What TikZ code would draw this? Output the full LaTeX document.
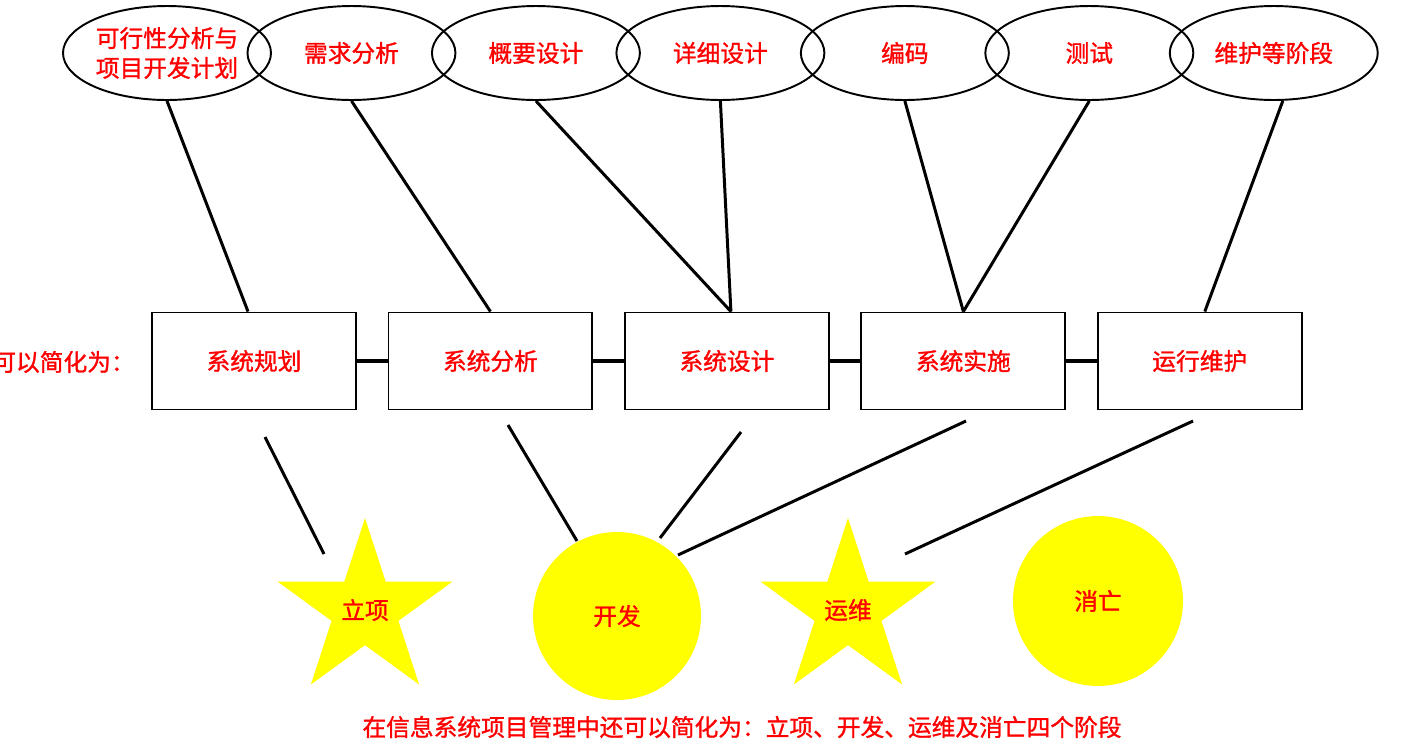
\documentclass[tikz,border=0pt]{standalone}
\usepackage{fontspec}
\newfontfamily\cjk[FakeBold=1.2]{Noto Sans CJK SC}
\usetikzlibrary{shapes.geometric,positioning}
\definecolor{sunyellow}{RGB}{255,255,0}
\definecolor{textred}{RGB}{255,0,0}

\begin{document}
\begin{tikzpicture}[x=0.02cm, y=-0.02cm, node distance=3.69cm]
\tikzstyle{every node}=[text=textred, font=\cjk\fontsize{13.5}{17}\selectfont]
\tikzstyle{stage}=[ellipse, draw=black, line width=1.1pt, minimum width=4.16cm, minimum height=1.88cm, inner sep=0pt, align=center]
\tikzstyle{phase}=[rectangle, draw=black, line width=1.1pt, minimum width=4.08cm, minimum height=1.94cm, node distance=4.73cm]
\tikzstyle{life}=[fill=sunyellow, inner sep=0pt]
\tikzstyle{link}=[draw=black, line width=1.7pt]
\useasboundingbox (0,0) rectangle (1407,755);
% detailed stages
\node[stage] (E1) at (167,53) {可行性分析与\\项目开发计划};
\node[stage] (E2)[right of=E1] {需求分析};
\node[stage] (E3)[right of=E2] {概要设计};
\node[stage] (E4)[right of=E3] {详细设计};
\node[stage] (E5)[right of=E4] {编码};
\node[stage] (E6)[right of=E5] {测试};
\node[stage] (E7)[right of=E6] {维护等阶段};
% simplified phases
\node[phase] (B1) at (254,361) {系统规划};
\node[phase] (B2)[right of=B1] {系统分析};
\node[phase] (B3)[right of=B2] {系统设计};
\node[phase] (B4)[right of=B3] {系统实施};
\node[phase] (B5)[right of=B4] {运行维护};
\node[anchor=west, inner sep=0pt] (N1) at (-8,362) {可以简化为：};
% life cycle
\node[life, star, star points=5, star point ratio=2.618, minimum size=3.68cm] (S1) at (365,610) {立项};
\node[life, circle, minimum size=3.36cm] (C1) at (617,616) {开发};
\node[life, star, star points=5, star point ratio=2.618, minimum size=3.68cm] (S2) at (848,610) {运维};
\node[life, circle, minimum size=3.40cm] (C2) at (1098,601) {消亡};
\node (N2) at (742,727) {在信息系统项目管理中还可以简化为：立项、开发、运维及消亡四个阶段};
% free ends of the lower lines
\coordinate (L1a) at (265,437); \coordinate (L1b) at (324,554);
\coordinate (L2a) at (508,425); \coordinate (L2b) at (577,541);
\coordinate (L3a) at (741,432); \coordinate (L3b) at (660,538);
\coordinate (L4a) at (966,421); \coordinate (L4b) at (678,555);
\coordinate (L5a) at (1193,421); \coordinate (L5b) at (905,554);
\path[link]
(E1.south) edge ([xshift=-0.12cm]B1.north)
(E2.south) edge (B2.north)
(E3.south) edge ([xshift=0.08cm]B3.north)
(E4.south) edge ([xshift=0.08cm]B3.north)
(E5.south) edge (B4.north)
(E6.south) edge (B4.north)
([xshift=0.18cm]E7.south) edge ([xshift=0.1cm]B5.north);
\path[draw=black, line width=2.8pt]
(B1) edge (B2)
(B2) edge (B3)
(B3) edge (B4)
(B4) edge (B5);
\path[link]
(L1a) edge (L1b)
(L2a) edge (L2b)
(L3a) edge (L3b)
(L4a) edge (L4b)
(L5a) edge (L5b);
\end{tikzpicture}
\end{document}
